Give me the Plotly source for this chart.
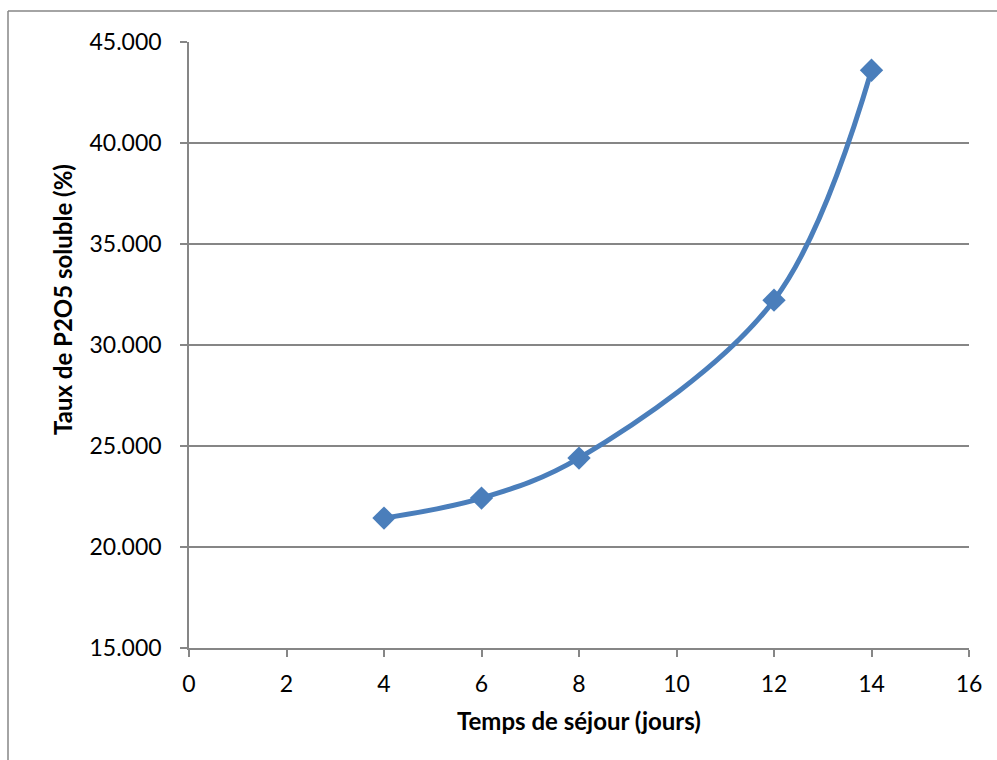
import plotly.graph_objects as go

# Residence time (days) vs soluble P2O5 content (%)
jours = [4, 6, 8, 12, 14]
taux_p2o5 = [21.43, 22.42, 24.40, 32.22, 43.60]

x_ticks = [0, 2, 4, 6, 8, 10, 12, 14, 16]
y_ticks = [15, 20, 25, 30, 35, 40, 45]
y_tick_text = ["15.000", "20.000", "25.000", "30.000", "35.000", "40.000", "45.000"]

BLUE = "#4a7ebb"
GRID = "#868686"
FONT = "Lato, 'Open Sans', sans-serif"
TICK_SIZE = 23
TITLE_SIZE = 24

fig = go.Figure()
fig.add_trace(go.Scatter(
    x=jours, y=taux_p2o5,
    mode="lines+markers",
    line=dict(color=BLUE, width=5, shape="spline", smoothing=1.0),
    marker=dict(symbol="diamond", size=18, color=BLUE),
    showlegend=False,
    hoverinfo="x+y",
))

L, R, T, B = 189, 28, 42, 112
W, H = 997, 760
pw, ph = W - L - R, H - T - B

fig.update_layout(
    width=W, height=H,
    margin=dict(l=L, r=R, t=T, b=B),
    paper_bgcolor="white",
    plot_bgcolor="white",
    font=dict(family=FONT, size=TICK_SIZE, color="#000000"),
    xaxis=dict(
        range=[0, 16], tickvals=x_ticks, ticktext=[str(v) for v in x_ticks],
        showgrid=False, zeroline=False,
        showline=True, linecolor=GRID, linewidth=1.5,
        ticks="outside", ticklen=7, tickcolor=GRID, tickwidth=1.5,
        ticklabelstandoff=8,
        tickfont=dict(size=TICK_SIZE, family=FONT),
    ),
    yaxis=dict(
        range=[15, 45], tickvals=y_ticks, ticktext=y_tick_text,
        showgrid=True, gridcolor=GRID, gridwidth=1.5, zeroline=False,
        showline=True, linecolor=GRID, linewidth=1.5,
        ticks="outside", ticklen=7, tickcolor=GRID, tickwidth=1.5,
        ticklabelstandoff=14,
        tickfont=dict(size=TICK_SIZE, family=FONT),
    ),
)

# Axis titles
fig.add_annotation(
    text="<b>Temps de séjour (jours)</b>", xref="paper", yref="paper",
    x=(579 - L) / pw, y=(H - B - 720) / ph, showarrow=False,
    font=dict(size=TITLE_SIZE, family=FONT), xanchor="center", yanchor="middle",
)
fig.add_annotation(
    text="<b>Taux de P2O5 soluble (%)</b>", xref="paper", yref="paper",
    x=(62 - L) / pw, y=(H - B - 300) / ph, showarrow=False, textangle=-90,
    font=dict(size=TITLE_SIZE, family=FONT), xanchor="center", yanchor="middle",
)

# Chart-area border (left and top edges visible)
bx0 = (8 - L) / pw
by1 = (H - B - 11) / ph
fig.add_shape(type="line", xref="paper", yref="paper",
              x0=bx0, x1=bx0, y0=-0.3, y1=by1,
              line=dict(color=GRID, width=1.5))
fig.add_shape(type="line", xref="paper", yref="paper",
              x0=bx0, x1=1.1, y0=by1, y1=by1,
              line=dict(color=GRID, width=1.5))

fig.write_html("out.html")
